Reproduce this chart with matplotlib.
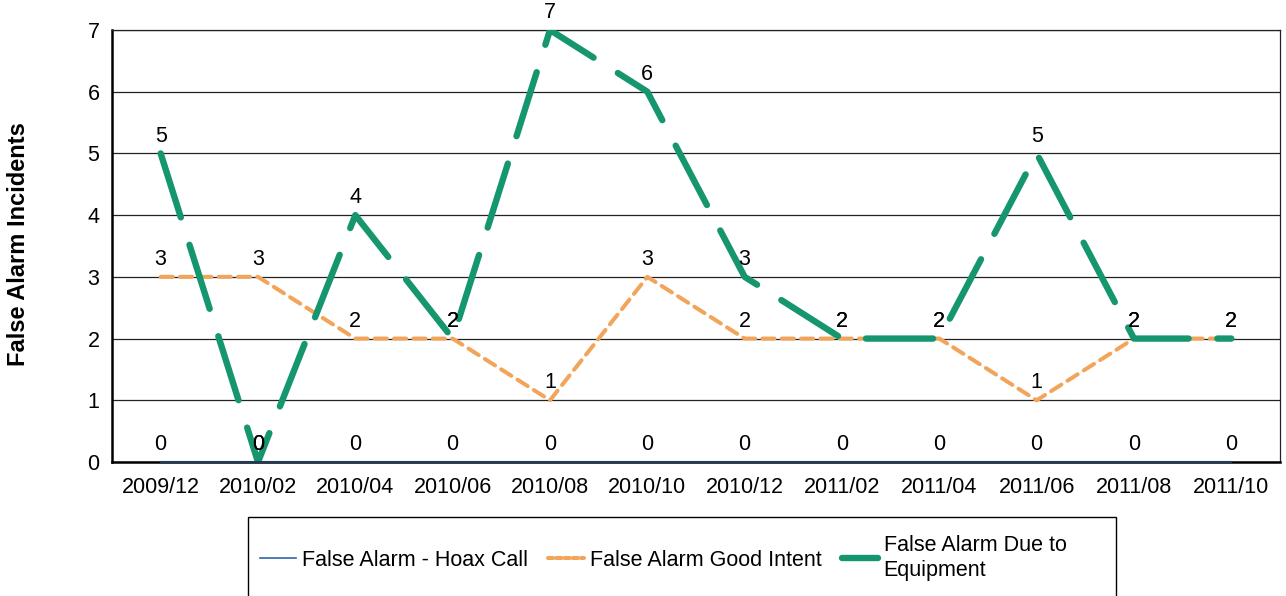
import matplotlib
matplotlib.use("Agg")
import matplotlib.pyplot as plt
from matplotlib.patches import Rectangle
from matplotlib.lines import Line2D

plt.rcParams['font.family'] = ['Liberation Sans', 'DejaVu Sans']

categories = ["2009/12", "2010/02", "2010/04", "2010/06", "2010/08", "2010/10",
              "2010/12", "2011/02", "2011/04", "2011/06", "2011/08", "2011/10"]
hoax = [0, 0, 0, 0, 0, 0, 0, 0, 0, 0, 0, 0]
good_intent = [3, 3, 2, 2, 1, 3, 2, 2, 2, 1, 2, 2]
equipment = [5, 0, 4, 2, 7, 6, 3, 2, 2, 5, 2, 2]
series_names = ["False Alarm - Hoax Call", "False Alarm Good Intent",
                "False Alarm Due to\nEquipment"]

c_hoax = '#2f64ad'
c_good = '#f2a55a'
c_equip = '#16966f'

FS = 15.5

fig = plt.figure(figsize=(12.86, 5.96), dpi=100)
ax = fig.add_axes([112/1286, 1-462/596, (1280-112)/1286, (462-30)/596])

x = list(range(len(categories)))

ax.plot(x, good_intent, color=c_good, lw=2.9, dashes=(3, 1.8),
        dash_capstyle='round', zorder=3)
ax.plot(x, equipment, color=c_equip, lw=4.6, dashes=(10.5, 4.5),
        dash_capstyle='round', solid_joinstyle='round', zorder=4)
ax.plot(x, hoax, color='#1f3a5f', lw=1.5, zorder=6, clip_on=False)

for series in (hoax, good_intent, equipment):
    for xi, v in zip(x, series):
        ax.annotate(str(v), (xi, v), xytext=(0, 12.5), textcoords='offset points',
                    ha='center', va='center', fontsize=FS, color='black',
                    zorder=7, annotation_clip=False)

ax.set_xlim(-0.5, len(categories) - 0.5)
ax.set_ylim(0, 7)
ax.set_yticks(range(0, 8))
ax.set_xticks(x)
ax.set_xticklabels(categories)
ax.tick_params(axis='both', length=0, labelsize=FS)
ax.tick_params(axis='x', pad=11)
ax.tick_params(axis='y', pad=9)
ax.yaxis.grid(True, color='#222222', lw=0.9)
ax.set_axisbelow(True)
for s in ['top', 'right']:
    ax.spines[s].set_linewidth(0.9)
    ax.spines[s].set_color('#222222')
for s in ['left', 'bottom']:
    ax.spines[s].set_linewidth(1.8)
    ax.spines[s].set_color('black')

fig.text(19/1286, 1-244/596, "False Alarm Incidents", rotation=90,
         ha='center', va='center', fontsize=17, fontweight='bold')

# legend box
rect = Rectangle((248/1286, -0.05), (1116-248)/1286, (596-517)/596 + 0.05,
                 transform=fig.transFigure, facecolor='white', edgecolor='black',
                 lw=1.0, zorder=1)
fig.patches.append(rect)

handles = [Line2D([], [], color=c_hoax, lw=1.2),
           Line2D([], [], color=c_good, lw=2.9, dashes=(1.3, 0.75), dash_capstyle='round'),
           Line2D([], [], color=c_equip, lw=4.6, solid_capstyle='round')]
leg = fig.legend(handles, series_names, loc='center left',
                 bbox_to_anchor=(260/1286, 1-558/596), ncol=3, frameon=False,
                 fontsize=FS, handlelength=1.67, handletextpad=0.28,
                 columnspacing=0.93, borderaxespad=0, borderpad=0)
leg.set_zorder(5)

fig.savefig("out.png", dpi=100)
